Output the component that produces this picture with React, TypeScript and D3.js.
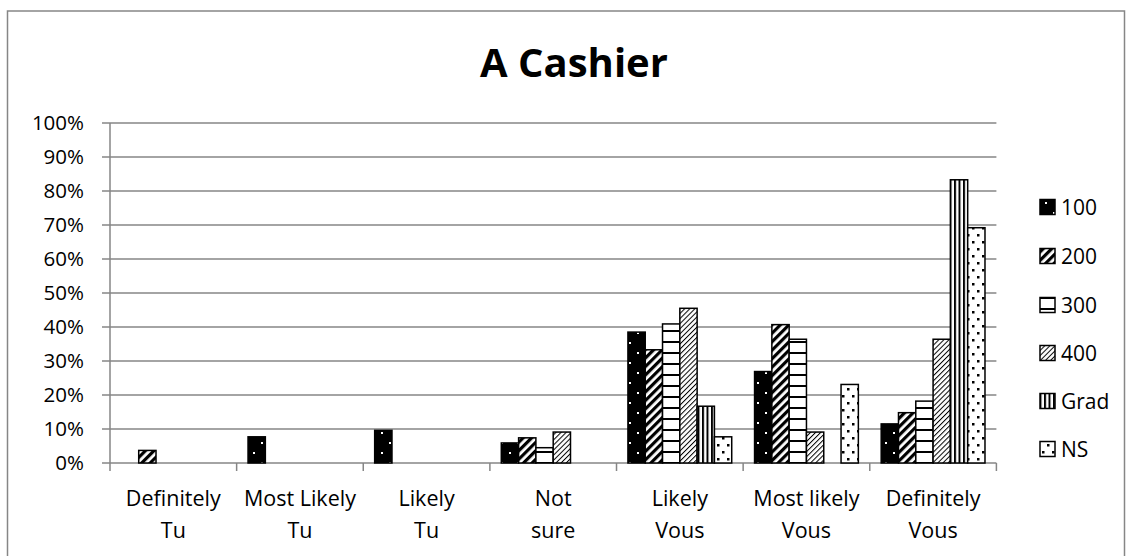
import React from "react";
import * as d3 from "d3";

const categories = [
  ["Definitely", "Tu"],
  ["Most Likely", "Tu"],
  ["Likely", "Tu"],
  ["Not", "sure"],
  ["Likely", "Vous"],
  ["Most likely", "Vous"],
  ["Definitely", "Vous"],
];
const seriesNames = ["100", "200", "300", "400", "Grad", "NS"];
const s100 = [0, 7.7, 9.6, 5.9, 38.5, 26.9, 11.5];
const s200 = [3.7, 0, 0, 7.4, 33.3, 40.7, 14.8];
const s300 = [0, 0, 0, 4.5, 40.9, 36.4, 18.2];
const s400 = [0, 0, 0, 9.1, 45.5, 9.1, 36.4];
const sGrad = [0, 0, 0, 0, 16.7, 0, 83.3];
const sNS = [0, 0, 0, 0, 7.7, 23.1, 69.2];
const seriesValues = [s100, s200, s300, s400, sGrad, sNS];
const yTicks = [0, 10, 20, 30, 40, 50, 60, 70, 80, 90, 100];
const title = "A Cashier";

const FONT = "'Open Sans', 'DejaVu Sans', sans-serif";
const GRID = "#868686";

export default function App() {
  const left = 110;
  const right = 996.4;
  const top = 123;
  const bottom = 463;

  const catKeys = categories.map((c, i) => String(i));
  const x = d3.scaleBand<string>().domain(catKeys).range([left, right]).paddingInner(0).paddingOuter(0);
  const xs = d3.scaleBand<string>().domain(seriesNames).range([0, x.bandwidth()]).paddingInner(0).paddingOuter(0.66);
  const y = d3.scaleLinear().domain([0, 100]).range([bottom, top]);

  const patIds = ["p100", "p200", "p300", "p400", "pGrad", "pNS"];
  const legendY = [207, 256, 305, 353, 401, 449];

  return (
    <svg width={1126} height={556} style={{ position: "absolute", left: 0, top: 0, background: "#fff" }}>
      <defs>
        <pattern id="p100" patternUnits="userSpaceOnUse" width={16} height={20}>
          <rect width={16} height={20} fill="#000" />
          <rect x={5} y={2} width={2} height={2} fill="#fff" />
          <rect x={13} y={12} width={2} height={2} fill="#fff" />
        </pattern>
        <pattern id="p200" patternUnits="userSpaceOnUse" width={6} height={6} patternTransform="rotate(45)">
          <rect width={6} height={6} fill="#fff" />
          <rect width={3.2} height={6} fill="#000" />
        </pattern>
        <pattern id="p300" patternUnits="userSpaceOnUse" width={8} height={11}>
          <rect width={8} height={11} fill="#fff" />
          <rect y={0} width={8} height={2} fill="#000" />
        </pattern>
        <pattern id="p400" patternUnits="userSpaceOnUse" width={3.6} height={3.6} patternTransform="rotate(45)">
          <rect width={3.6} height={3.6} fill="#fff" />
          <rect width={1} height={3.6} fill="#000" />
        </pattern>
        <pattern id="pGrad" patternUnits="userSpaceOnUse" width={4.5} height={8}>
          <rect width={4.5} height={8} fill="#fff" />
          <rect width={2} height={8} fill="#000" />
        </pattern>
        <pattern id="pNS" patternUnits="userSpaceOnUse" width={10} height={14}>
          <rect width={10} height={14} fill="#fff" />
          <rect x={2} y={3} width={2.5} height={2.5} fill="#000" />
          <rect x={7} y={10} width={2.5} height={2.5} fill="#000" />
        </pattern>
      </defs>

      {/* outer chart border */}
      <rect x={7.5} y={11} width={1117} height={560} fill="#fff" stroke={GRID} strokeWidth={1.5} />

      {/* title */}
      <text x={574} y={77} textAnchor="middle" fontFamily={FONT} fontWeight="bold" fontSize={40} fill="#000">
        {title}
      </text>

      {/* gridlines */}
      {yTicks.map((t) => (
        <line key={"g" + t} x1={left - 8} x2={right} y1={y(t)} y2={y(t)} stroke={GRID} strokeWidth={1.5} />
      ))}
      {/* y axis */}
      <line x1={left} x2={left} y1={top} y2={bottom} stroke={GRID} strokeWidth={1.5} />
      {yTicks.map((t) => (
        <text key={"yl" + t} x={84} y={y(t)} dy="0.36em" textAnchor="end" fontFamily={FONT} fontSize={20.5} fill="#000">
          {t + "%"}
        </text>
      ))}

      {/* x ticks */}
      {catKeys.concat(["end"]).map((k, i) => {
        const xx = i < catKeys.length ? (x(k) as number) : right;
        return <line key={"xt" + i} x1={xx} x2={xx} y1={bottom} y2={bottom + 8} stroke={GRID} strokeWidth={1.5} />;
      })}

      {/* x labels */}
      {categories.map((c, i) => {
        const cx = (x(String(i)) as number) + x.bandwidth() / 2;
        return (
          <g key={"xl" + i}>
            <text x={cx} y={506} textAnchor="middle" fontFamily={FONT} fontSize={21.5} fill="#000">
              {c[0]}
            </text>
            <text x={cx} y={538} textAnchor="middle" fontFamily={FONT} fontSize={21.5} fill="#000">
              {c[1]}
            </text>
          </g>
        );
      })}

      {/* bars */}
      {seriesValues.map((vals, si) =>
        vals.map((v, ci) =>
          v > 0 ? (
            <rect
              key={"b" + si + "-" + ci}
              x={(x(String(ci)) as number) + (xs(seriesNames[si]) as number)}
              y={y(v)}
              width={xs.bandwidth()}
              height={bottom - y(v)}
              fill={`url(#${patIds[si]})`}
              stroke="#000"
              strokeWidth={1.5}
            />
          ) : null
        )
      )}

      {/* legend */}
      {seriesNames.map((n, i) => (
        <g key={"lg" + n}>
          <rect x={1040} y={legendY[i] - 7.5} width={15} height={15} fill={`url(#${patIds[i]})`} stroke="#000" strokeWidth={1.5} />
          <text x={1061} y={legendY[i]} dy="0.36em" fontFamily={FONT} fontSize={21} fill="#000">
            {n}
          </text>
        </g>
      ))}
    </svg>
  );
}
